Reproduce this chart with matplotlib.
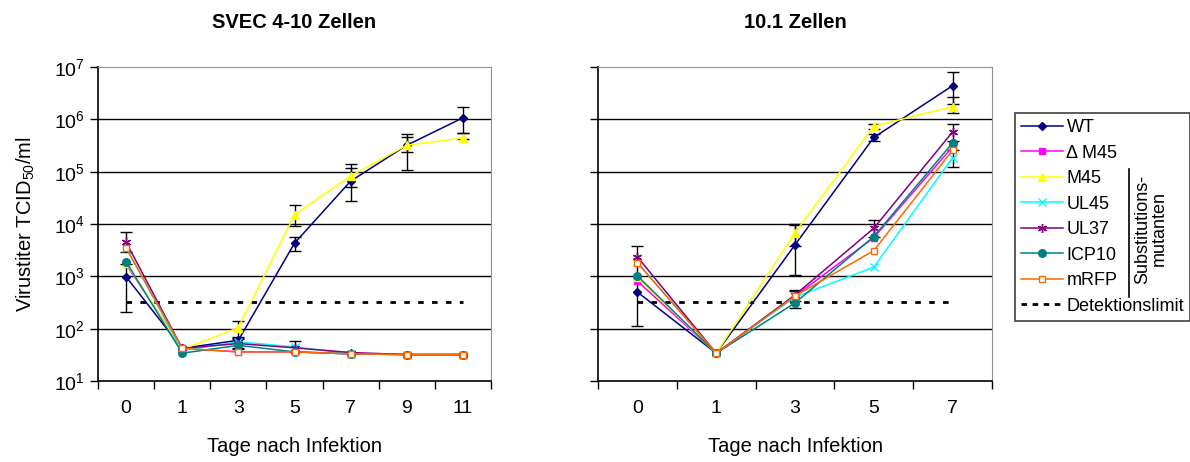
import numpy as np
import matplotlib
matplotlib.use("Agg")
import matplotlib.pyplot as plt
from matplotlib.lines import Line2D

plt.rcParams["font.family"] = ["Liberation Sans", "DejaVu Sans"]
plt.rcParams["mathtext.fontset"] = "custom"
plt.rcParams["mathtext.rm"] = "Liberation Sans"
plt.rcParams["mathtext.it"] = "Liberation Sans:italic"

# SVEC 4-10 cells
days_svec = ["0", "1", "3", "5", "7", "9", "11"]
svec_wt = [980, 42, 60, 4300, 66000, 320000, 1070000]
svec_dm45 = [1700, 42, 36, 36, 33, 32, 32]
svec_m45 = [1800, 40, 105, 15000, 83000, 320000, 440000]
svec_ul45 = [3500, 38, 56, 45, 33, 32, 32]
svec_ul37 = [4500, 42, 52, 43, 35, 32, 32]
svec_icp10 = [1900, 34, 48, 36, 33, 32, 32]
svec_mrfp = [3500, 42, 36, 36, 33, 32, 32]

# error bar bounds (low, high), nan = none
svec_wt_lo = [210, np.nan, 42, 3000, 28000, 110000, 550000]
svec_wt_hi = [1750, np.nan, 66, 5600, 138000, 525000, 1740000]
svec_m45_lo = [np.nan, np.nan, 70, 9300, 51000, 234000, 420000]
svec_m45_hi = [np.nan, np.nan, 141, 23400, 117000, 457000, 550000]
svec_ul37_lo = [2900, np.nan, 40, 36, np.nan, np.nan, np.nan]
svec_ul37_hi = [7000, np.nan, 64, 58, np.nan, np.nan, np.nan]

# 10.1 cells
days_101 = ["0", "1", "3", "5", "7"]
c101_wt = [500, 34, 4000, 450000, 4400000]
c101_dm45 = [810, 34, 420, 5500, 300000]
c101_m45 = [950, 34, 6800, 740000, 1750000]
c101_ul45 = [1850, 34, 400, 1500, 186000]
c101_ul37 = [2350, 34, 440, 8300, 575000]
c101_icp10 = [1020, 34, 310, 5750, 355000]
c101_mrfp = [1800, 34, 420, 3100, 257000]

c101_wt_lo = [112, np.nan, 1050, 380000, 2000000]
c101_wt_hi = [3800, np.nan, 9500, 530000, 7900000]
c101_m45_lo = [np.nan, np.nan, 3800, 660000, 1300000]
c101_m45_hi = [np.nan, np.nan, 9800, 820000, 2700000]
c101_ul37_lo = [np.nan, np.nan, 340, 5600, 380000]
c101_ul37_hi = [np.nan, np.nan, 560, 12000, 800000]
c101_ul45_lo = [np.nan, np.nan, 250, np.nan, 125000]
c101_ul45_hi = [np.nan, np.nan, 520, np.nan, 260000]

detection_limit = 330

names = ["WT", "\u0394 M45", "M45", "UL45", "UL37", "ICP10", "mRFP"]
colors = ["#000080", "#FF00FF", "#FFFF00", "#00FFFF", "#800080", "#008080", "#FF6600"]
markers = ["D", "s", "^", "x", (6, 2, 0), "o", "s"]
msizes = [4.5, 5, 6, 5.5, 6.5, 5.5, 5]


def draw_panel(ax, days, series, errs, title):
    x = np.arange(len(days))
    for i, y in enumerate(series):
        face = "white" if names[i] == "mRFP" else colors[i]
        ax.plot(x, y, color=colors[i], marker=markers[i], ms=msizes[i],
                mfc=face, mec=colors[i], lw=1.1, zorder=3 + i * 0.1)
    for y, lo, hi in errs:
        y = np.array(y, float)
        lo = np.array(lo, float)
        hi = np.array(hi, float)
        ok = ~np.isnan(lo)
        ax.errorbar(x[ok], y[ok], yerr=[y[ok] - lo[ok], hi[ok] - y[ok]],
                    fmt="none", ecolor="black", elinewidth=1, capsize=4,
                    capthick=1, zorder=2)
    ax.plot([x[0], x[-1]], [detection_limit, detection_limit], color="black",
            ls=(0, (2, 3)), lw=2, zorder=2.5)

    ax.set_yscale("log")
    ax.set_ylim(10, 1e7)
    ax.set_xlim(-0.5, len(days) - 0.5)
    for yv in [1e2, 1e3, 1e4, 1e5, 1e6]:
        ax.axhline(yv, color="black", lw=1, zorder=1)
    ax.set_yticks([10 ** k for k in range(1, 8)])
    ax.yaxis.set_minor_locator(plt.NullLocator())
    ax.set_xticks(np.arange(len(days) + 1) - 0.5)
    ax.set_xticklabels([])
    ax.set_xticks(x, minor=True)
    ax.set_xticklabels(days, minor=True, fontsize=14)
    ax.tick_params(axis="x", which="minor", length=0, pad=14)
    ax.tick_params(axis="x", which="major", length=6, width=1, direction="out")
    ax.tick_params(axis="y", length=6, width=1, direction="out", labelsize=14)
    for s in ["top", "right"]:
        ax.spines[s].set_color("#909090")
    ax.spines["left"].set_linewidth(1.2)
    ax.spines["bottom"].set_linewidth(1.2)
    ax.set_xlabel("Tage nach Infektion", fontsize=14.5, labelpad=14)
    ax.set_title(title, fontsize=14.5, fontweight="bold", pad=28)


fig = plt.figure(figsize=(11.9, 4.62), dpi=100)
ax1 = fig.add_axes([98 / 1190, 81 / 462, 393 / 1190, 314 / 462])
ax2 = fig.add_axes([598 / 1190, 81 / 462, 394 / 1190, 314 / 462])

draw_panel(ax1, days_svec,
           [svec_wt, svec_dm45, svec_m45, svec_ul45, svec_ul37, svec_icp10, svec_mrfp],
           [(svec_wt, svec_wt_lo, svec_wt_hi), (svec_m45, svec_m45_lo, svec_m45_hi),
            (svec_ul37, svec_ul37_lo, svec_ul37_hi)],
           "SVEC 4-10 Zellen")
draw_panel(ax2, days_101,
           [c101_wt, c101_dm45, c101_m45, c101_ul45, c101_ul37, c101_icp10, c101_mrfp],
           [(c101_wt, c101_wt_lo, c101_wt_hi), (c101_m45, c101_m45_lo, c101_m45_hi),
            (c101_ul37, c101_ul37_lo, c101_ul37_hi), (c101_ul45, c101_ul45_lo, c101_ul45_hi)],
           "10.1 Zellen")
ax2.set_yticklabels([])
ax1.set_ylabel("Virustiter TCID$_{50}$/ml", fontsize=14.5, labelpad=12)

# legend
handles = []
for i in range(len(names)):
    face = "white" if names[i] == "mRFP" else colors[i]
    handles.append(Line2D([], [], color=colors[i], marker=markers[i], ms=msizes[i],
                          mfc=face, mec=colors[i], lw=1.1))
handles.append(Line2D([], [], color="black", ls=(0, (2, 2)), lw=2))
leg = fig.legend(handles, names + ["Detektionslimit"], loc="upper left",
                 bbox_to_anchor=(1015 / 1190, 1 - 113 / 462), fontsize=13,
                 frameon=True, fancybox=False, edgecolor="#404040", framealpha=1,
                 handlelength=2.3, handletextpad=0.2, labelspacing=0.47,
                 borderpad=0.35, borderaxespad=0)
leg.get_frame().set_linewidth(1.2)
leg.set_zorder(1)

fig.add_artist(Line2D([1129 / 1190, 1129 / 1190], [1 - 169 / 462, 1 - 297 / 462],
                      color="black", lw=1.2, transform=fig.transFigure, zorder=5))
fig.text(1151 / 1190, 1 - 229 / 462, "Substitutions-\nmutanten", rotation=90,
         ha="center", va="center", fontsize=13, linespacing=1.0, zorder=5)

fig.savefig("out.png", dpi=100)
